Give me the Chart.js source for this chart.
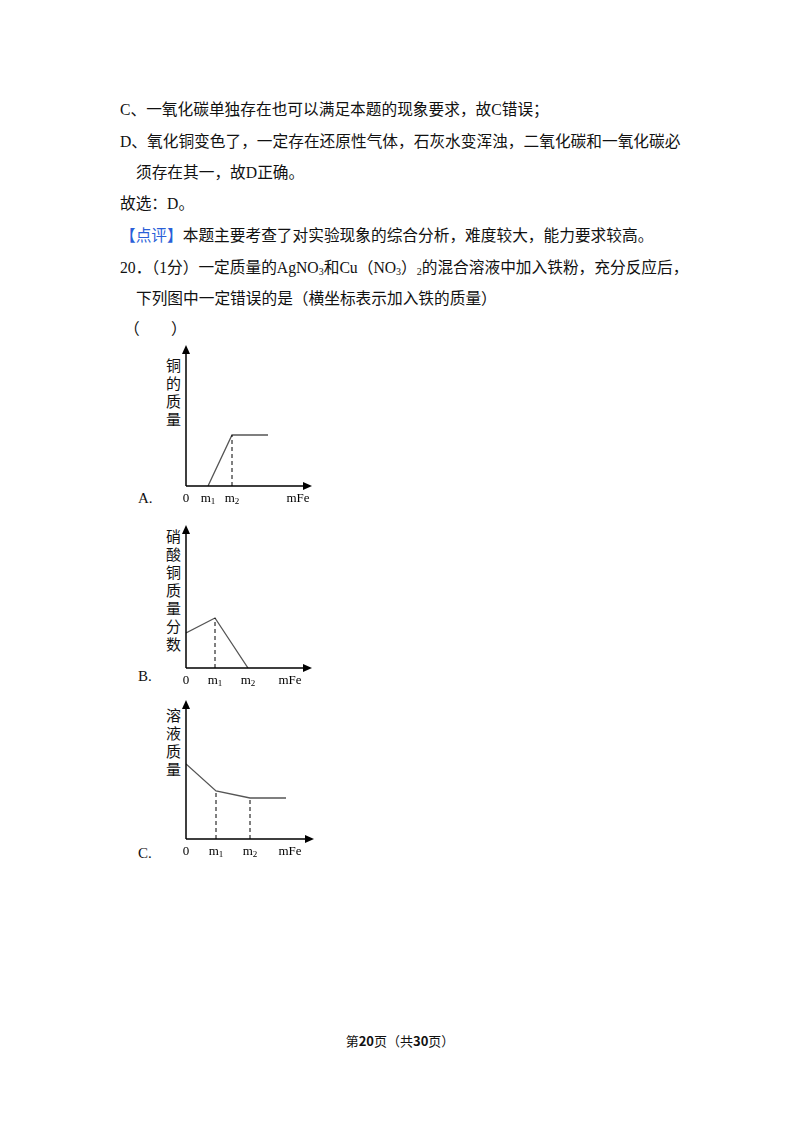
<!DOCTYPE html>
<html><head><meta charset="utf-8">
<script src="https://cdn.jsdelivr.net/npm/chart.js@4"></script>
<style>
body{margin:0;width:800px;height:1132px;background:#fff;position:relative;font-family:"Liberation Serif","Noto Sans CJK SC",serif;color:#111}
.t{position:absolute;font-size:15.7px;white-space:nowrap;font-family:"Liberation Serif","Noto Sans CJK SC",serif}
.lab{position:absolute;font-size:15px}
.yl{position:absolute;font-size:15px;line-height:18px;width:16px;font-family:"Noto Sans CJK SC",sans-serif}
canvas{position:absolute}
sub{font-size:10px;vertical-align:-2px;line-height:0}
</style></head><body>
<div class="t" style="left:120px;top:97px">C、一氧化碳单独存在也可以满足本题的现象要求，故C错误；</div>
<div class="t" style="left:120px;top:129px">D、氧化铜变色了，一定存在还原性气体，石灰水变浑浊，二氧化碳和一氧化碳必</div>
<div class="t" style="left:136px;top:160px">须存在其一，故D正确。</div>
<div class="t" style="left:120px;top:191px">故选：D。</div>
<div class="t" style="left:120px;top:223px"><span style="color:#2a5fd8">【点评】</span>本题主要考查了对实验现象的综合分析，难度较大，能力要求较高。</div>
<div class="t" style="left:120px;top:255px">20．（1分）一定质量的AgNO<sub>3</sub>和Cu（NO<sub>3</sub>）<sub>2</sub>的混合溶液中加入铁粉，充分反应后，</div>
<div class="t" style="left:136px;top:286px">下列图中一定错误的是（横坐标表示加入铁的质量）</div>
<div class="t" style="left:124px;top:316px">（　　）</div>

<div class="yl" style="left:166px;top:356px">铜的质量</div>
<div class="yl" style="left:166px;top:527px">硝酸铜质量分数</div>
<div class="yl" style="left:166px;top:706px">溶液质量</div>
<div class="lab" style="left:138px;top:490px">A.</div>
<div class="lab" style="left:138px;top:668px">B.</div>
<div class="lab" style="left:138px;top:845px">C.</div>

<canvas id="cA" style="left:166px;top:340px"></canvas>
<canvas id="cB" style="left:166px;top:520px"></canvas>
<canvas id="cC" style="left:166px;top:695px"></canvas>

<div class="t" style="left:0;width:800px;text-align:center;top:1031px;font-size:13px;font-family:'Noto Sans CJK SC',sans-serif">第<b>20</b>页（共<b>30</b>页）</div>

<script>
// chart A: copper mass
const aLine = [{x:22,y:0},{x:46,y:51},{x:82,y:51}];
const aDash = [[46,51]];
const aTicks = [[0,'0',''],[22,'m','1'],[46,'m','2'],[112,'mFe','']];
// chart B: Cu(NO3)2 mass fraction
const bLine = [{x:0,y:35},{x:29,y:50},{x:62,y:0}];
const bDash = [[29,50]];
const bTicks = [[0,'0',''],[29,'m','1'],[62,'m','2'],[104,'mFe','']];
// chart C: solution mass
const cLine = [{x:0,y:75},{x:30,y:48},{x:64,y:41},{x:100,y:41}];
const cDash = [[30,48],[64,41]];
const cTicks = [[0,'0',''],[30,'m','1'],[64,'m','2'],[104,'mFe','']];

const axesPlugin = {
    id: 'axesPlugin',
    afterDraw(chart) {
        const {ctx, scales: {x, y}} = chart;
        const o = chart.options.plugins.axesPlugin;
        const x0 = x.getPixelForValue(0), y0 = y.getPixelForValue(0);
        const xe = x.getPixelForValue(x.max), ye = y.getPixelForValue(y.max);
        ctx.save();
        ctx.strokeStyle = '#000';
        ctx.fillStyle = '#000';
        ctx.lineWidth = 1.5;
        ctx.beginPath();
        ctx.moveTo(x0, y0); ctx.lineTo(xe - 6, y0);
        ctx.moveTo(x0, y0); ctx.lineTo(x0, ye + 6);
        ctx.stroke();
        ctx.beginPath();
        ctx.moveTo(xe, y0); ctx.lineTo(xe - 9, y0 - 4); ctx.lineTo(xe - 9, y0 + 4); ctx.closePath(); ctx.fill();
        ctx.beginPath();
        ctx.moveTo(x0, ye); ctx.lineTo(x0 - 4, ye + 9); ctx.lineTo(x0 + 4, ye + 9); ctx.closePath(); ctx.fill();
        // dashed guides
        ctx.lineWidth = 1;
        ctx.setLineDash([4, 3]);
        o.dash.forEach(d => {
            const px = x.getPixelForValue(d[0]);
            ctx.beginPath();
            ctx.moveTo(px, y0); ctx.lineTo(px, y.getPixelForValue(d[1]));
            ctx.stroke();
        });
        ctx.setLineDash([]);
        ctx.textBaseline = 'alphabetic';
        o.ticks.forEach(t => {
            ctx.font = '13px "Liberation Serif", serif';
            const w1 = ctx.measureText(t[1]).width;
            ctx.font = '9px "Liberation Serif", serif';
            const w2 = ctx.measureText(t[2]).width;
            const left = x.getPixelForValue(t[0]) - (w1 + w2) / 2;
            ctx.font = '13px "Liberation Serif", serif';
            ctx.textAlign = 'left';
            ctx.fillText(t[1], left, y0 + 16);
            ctx.font = '9px "Liberation Serif", serif';
            ctx.fillText(t[2], left + w1, y0 + 18);
        });
        ctx.restore();
    }
};

function makeChart(id, data, xMax, yMax, dash, ticks) {
    const c = document.getElementById(id);
    c.width = 20 + xMax + 10;
    c.height = 5 + yMax + 22;
    c.style.width = c.width + 'px';
    c.style.height = c.height + 'px';
    new Chart(c, {
        type: 'line',
        data: { datasets: [{ data: data, borderColor: '#555', borderWidth: 1.3, pointRadius: 0, fill: false, tension: 0 }] },
        options: {
            responsive: false,
            animation: false,
            devicePixelRatio: 1,
            layout: { padding: { left: 20, right: 10, top: 5, bottom: 22 } },
            scales: {
                x: { type: 'linear', min: 0, max: xMax, display: false },
                y: { type: 'linear', min: 0, max: yMax, display: false }
            },
            plugins: { legend: { display: false }, tooltip: { enabled: false }, axesPlugin: { dash: dash, ticks: ticks } }
        },
        plugins: [axesPlugin]
    });
}

makeChart('cA', aLine, 126, 141, aDash, aTicks);
makeChart('cB', bLine, 126, 143, bDash, bTicks);
makeChart('cC', cLine, 128, 139, cDash, cTicks);
</script>
</body></html>
